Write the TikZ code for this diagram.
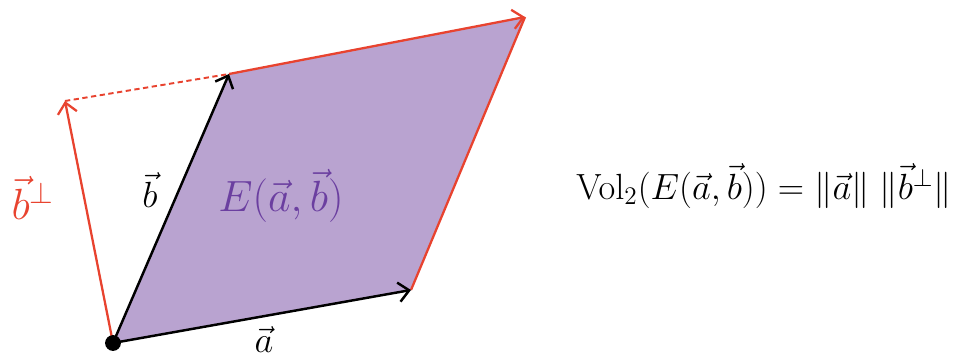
\documentclass[tikz,border=0pt]{standalone}
\usepackage{xcolor}
\usepackage{tikz}
\usetikzlibrary{arrows.meta, calc}
\definecolor{volpurple}{HTML}{B9A3D0}
\definecolor{voltext}{HTML}{6B3FA0}
\definecolor{volred}{HTML}{E8432F}
\tikzset{
  vecline/.style={-{Straight Barb[length=6pt,width=11pt]}, line width=1.4pt, draw=black},
  redvec/.style={-{Straight Barb[length=6pt,width=11pt]}, line width=1.3pt, draw=volred},
  redline/.style={line width=1.3pt, draw=volred},
  dotline/.style={line width=1.1pt, dash pattern=on 3pt off 2pt, draw=volred},
  origindot/.style={circle, fill=black, inner sep=0pt, minimum size=9pt},
  veclabel/.style={font=\fontsize{22}{26}\selectfont, inner sep=1pt},
  formula/.style={font=\fontsize{21.5}{26}\selectfont, inner sep=1pt}
}

\begin{document}
\begin{tikzpicture}[x=0.02cm, y=-0.02cm]
  \useasboundingbox (0,0) rectangle (980,358);
  % corners of the parallelogram E(a,b)
  \coordinate (O) at (113,343);
  \coordinate (a) at (411,290);
  \coordinate (b) at (229,74);
  \coordinate (ab) at (525,17);
  \coordinate (bperp) at (65,101);

  \fill[volpurple] (O) -- (a) -- (ab) -- (b) -- cycle;

  \draw[dotline] (bperp) -- (b);
  \draw[redline] (a) -- (ab);
  \draw[redvec] (b) -- (ab);
  \draw[vecline] (O) -- (a);
  \draw[vecline] (O) -- (b);
  \draw[redvec] (O) -- (bperp);
  \node[origindot] (dot) at (O) {};

  \node[veclabel] (blabel) at (150,190) {$\vec b$};
  \node[veclabel, text=voltext, font=\fontsize{27}{31}\selectfont] (elabel) at (281,196) {$E(\vec a,\vec b)$};
  \node[veclabel] (alabel) at (264,340) {$\vec a$};
  \node[veclabel, text=volred, font=\fontsize{25}{29}\selectfont] (bplabel) at (33,198) {$\vec b^{\perp}$};

  \node[formula] (vol) at (764,186)
    {$\mathrm{Vol}_2(E(\vec a,\vec b)) = \|\vec a\|\;\|\vec b^{\perp}\|$};
\end{tikzpicture}
\end{document}
